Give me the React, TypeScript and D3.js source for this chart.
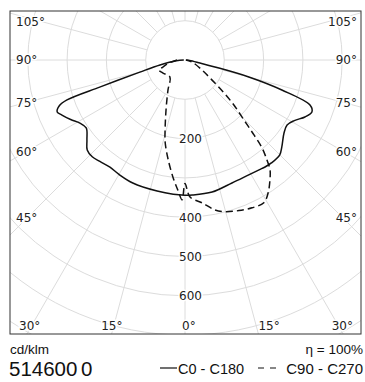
import React from "react";
import * as d3 from "d3";

// ---- data (cd/klm) ----
const c0Angles = [0, 3, 11.6, 20.9, 28, 34, 36.8, 40, 45, 48.1, 53.6, 57.5, 61, 64.6, 67.7, 70.2, 72.8, 75.1, 76.9, 78.7, 85, 90];
const c0Values = [344, 344, 343, 335, 334, 337, 340, 342, 341, 331, 313, 308, 318, 338, 349, 338, 258, 168, 78, 39, 12, 3];
const c180Angles = [0, 5, 12, 23, 30, 35, 40, 43.8, 47.4, 50.8, 55.5, 59, 62.5, 65.9, 67.9, 69.9, 71.3, 72.4, 75, 78.7, 85, 90];
const c180Values = [344, 343, 341, 340, 336, 333, 337, 341, 338, 322, 305, 312, 328, 343, 351, 341, 317, 226, 119, 65, 22, 3];
const c90Angles = [0, 2.1, 6.8, 11.3, 14.7, 19.7, 24.4, 28.9, 32, 35.3, 37.7, 39.4, 41.2, 42.6, 44.5, 47.4, 49.8, 53.5, 59.5, 74, 90];
const c90Values = [314, 349, 366, 389, 399, 407, 413, 415, 399, 374, 354, 328, 298, 260, 214, 169, 130, 85, 50, 19, 2];
const c270Angles = [0, 1.2, 3.2, 5.6, 9.5, 13.5, 15.9, 20.8, 29.5, 41.4, 59.4, 69, 72.3, 80, 90];
const c270Values = [314, 356, 331, 303, 258, 216, 185, 136, 88, 58, 65, 71, 59, 40, 20];

const gridValues = [100, 200, 300, 400, 500, 600, 700, 800, 900];
const rLabelValues = [200, 400, 500, 600];
const sideAngleLabels = [45, 60, 75, 90, 105];
const bottomAngleLabels = [0, 15, 30];
const spokeAngles = d3.range(0, 360, 15);

const unitLabel = "cd/klm";
const etaLabel = "η = 100%";
const idMain = "514600";
const idLast = "0";
const legendSolid = "C0 - C180";
const legendDashed = "C90 - C270";

// ---- layout ----
const W = 365;
const H = 382;
const box = { x0: 10, y0: 11, x1: 361, y1: 334 };
const cx = 185;
const cy = 60;
const rScale = d3.scaleLinear().domain([0, 100]).range([0, 39.3]);
const deg = Math.PI / 180;
const rightBottomShift: Record<number, number> = { 15: 13, 30: 4 };

type P = { a: number; r: number };

function planePath(leftA: number[], leftV: number[], rightA: number[], rightV: number[]) {
  const pts: P[] = [];
  for (let i = leftA.length - 1; i >= 1; i--) pts.push({ a: Math.PI + leftA[i] * deg, r: rScale(leftV[i]) });
  for (let i = 0; i < rightA.length; i++) pts.push({ a: Math.PI - rightA[i] * deg, r: rScale(rightV[i]) });
  const line = d3
    .lineRadial<P>()
    .angle((d) => d.a)
    .radius((d) => d.r)
    .curve(d3.curveCatmullRom.alpha(0.5));
  return line(pts) || "";
}

export default function App() {
  const solid = planePath(c180Angles, c180Values, c0Angles, c0Values);
  const dashed = planePath(c270Angles, c270Values, c90Angles, c90Values);
  const rMax = rScale(1000);
  const labelFont = "DejaVu Sans, sans-serif";
  const textFont = "Liberation Sans, Arial, sans-serif";
  const halo = { stroke: "#fff", strokeWidth: 3, paintOrder: "stroke" as const };
  const sideD = 158;
  const bottomY = 325.5;

  return (
    <svg width={W} height={H} style={{ position: "absolute", left: 0, top: 0, background: "#fff" }}>
      <defs>
        <clipPath id="boxclip">
          <rect x={box.x0} y={box.y0} width={box.x1 - box.x0} height={box.y1 - box.y0} />
        </clipPath>
      </defs>
      <rect x={0} y={0} width={W} height={H} fill="#fff" />
      <g clipPath="url(#boxclip)">
        <g transform={`translate(${cx},${cy})`} stroke="#dcdcdc" strokeWidth={1} fill="none">
          {gridValues.map((v) => (
            <circle key={v} r={rScale(v)} />
          ))}
          {spokeAngles.map((g) => (
            <line
              key={g}
              x1={rScale(100) * Math.sin(g * deg)}
              y1={rScale(100) * Math.cos(g * deg)}
              x2={rMax * Math.sin(g * deg)}
              y2={rMax * Math.cos(g * deg)}
            />
          ))}
        </g>
        <g transform={`translate(${cx},${cy})`} fill="none" stroke="#111" strokeWidth={1.5}>
          <path d={solid} />
          <path d={dashed} strokeDasharray="7,4" />
        </g>
        <g fontFamily={labelFont} fontSize={12} fill="#222">
          {rLabelValues.map((v) => (
            <text key={v} x={cx - 6} y={cy + rScale(v) + 4.3} {...halo}>
              {v}
            </text>
          ))}
          {sideAngleLabels.map((g) => {
            const y = Math.max(22, cy + sideD / Math.tan(g * deg));
            return (
              <g key={g}>
                <text x={16} y={y + 4.3} {...halo}>{`${g}°`}</text>
                <text x={357} y={y + 4.3} textAnchor="end" {...halo}>{`${g}°`}</text>
              </g>
            );
          })}
          {bottomAngleLabels.map((g) => {
            const dx = (bottomY - cy) * Math.tan(g * deg);
            return (
              <g key={g}>
                {g === 0 ? (
                  <text x={cx - 3} y={bottomY + 4.3} {...halo}>{`${g}°`}</text>
                ) : (
                  <>
                    <text x={cx - dx - 2} y={bottomY + 4.3} textAnchor="middle" {...halo}>{`${g}°`}</text>
                    <text x={cx + dx + rightBottomShift[g]} y={bottomY + 4.3} textAnchor="middle" {...halo}>{`${g}°`}</text>
                  </>
                )}
              </g>
            );
          })}
        </g>
      </g>
      <rect
        x={box.x0}
        y={box.y0}
        width={box.x1 - box.x0}
        height={box.y1 - box.y0}
        fill="none"
        stroke="#333"
        strokeWidth={1}
      />
      <g fontFamily={textFont} fill="#111">
        <text x={10} y={354} fontSize={13.5}>{unitLabel}</text>
        <text x={363} y={354} fontSize={13.5} textAnchor="end">{etaLabel}</text>
        <text x={9} y={376} fontSize={20.5}>{idMain}</text>
        <text x={81} y={376} fontSize={20.5}>{idLast}</text>
        <line x1={160} x2={177} y1={368} y2={368} stroke="#111" strokeWidth={1.2} />
        <text x={178} y={373.5} fontSize={14.5}>{legendSolid}</text>
        <line x1={258} x2={276} y1={368} y2={368} stroke="#111" strokeWidth={1.2} strokeDasharray="6,6" />
        <text x={363} y={373.5} fontSize={15} textAnchor="end">{legendDashed}</text>
      </g>
    </svg>
  );
}
